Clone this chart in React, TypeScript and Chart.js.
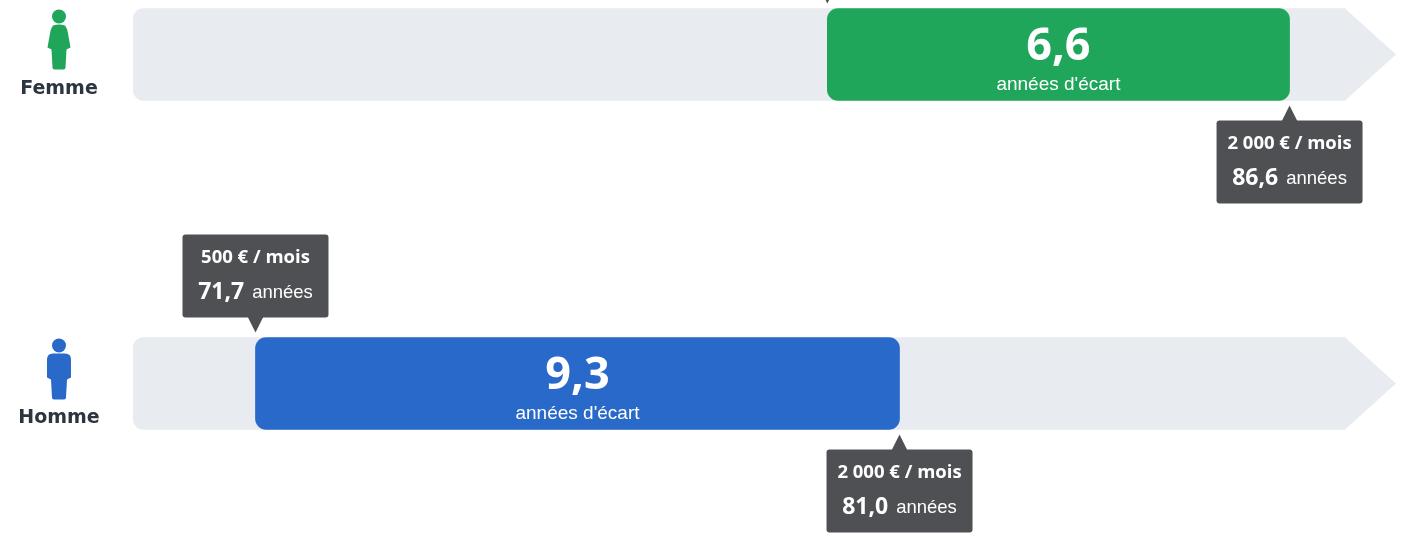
import React, { useEffect, useRef } from "react";
import { Chart, registerables } from "chart.js";

Chart.register(...registerables);

const categories = ["Femme", "Homme"];
const lowValues = [79.94, 71.7];
const highValues = [86.6, 80.98];
const gapLabels = ["6,6", "9,3"];
const lowIncome = ["", "500 € / mois"];
const highIncome = ["2 000 € / mois", "2 000 € / mois"];
const lowLabels = ["", "71,7"];
const highLabels = ["86,6", "81,0"];
const trackStart = 69.935;
const trackEnd = 87.4;
const axisMax = 88.134;
const colours = ["#1fa65a", "#2969c9"];
const trackColour = "#e8ebf0";
const tipColour = "#4f5054";
const unitText = "années";
const gapText = "années d'écart";

const OPEN = '"Open Sans", sans-serif';
const ARIAL = '"Liberation Sans", Arial, sans-serif';
const DEJAVU = '"DejaVu Sans", sans-serif';

function roundedBox(c: CanvasRenderingContext2D, x: number, y: number, w: number, h: number, r: number) {
  c.beginPath();
  c.roundRect(x, y, w, h, r);
  c.fill();
}

function drawFigure(c: CanvasRenderingContext2D, cx: number, cy: number, woman: boolean, colour: string) {
  c.fillStyle = colour;
  c.beginPath();
  c.arc(cx, cy - 38, 7, 0, Math.PI * 2);
  c.fill();
  c.beginPath();
  if (woman) {
    c.moveTo(cx - 6, cy - 29);
    c.quadraticCurveTo(cx, cy - 31, cx + 6, cy - 29);
    c.quadraticCurveTo(cx + 8.5, cy - 26, cx + 9, cy - 21);
    c.lineTo(cx + 11.5, cy - 7);
    c.lineTo(cx + 7.5, cy - 5);
    c.lineTo(cx + 6.5, cy + 13);
    c.quadraticCurveTo(cx + 6.5, cy + 15, cx + 4.5, cy + 15);
    c.lineTo(cx - 4.5, cy + 15);
    c.quadraticCurveTo(cx - 6.5, cy + 15, cx - 6.5, cy + 13);
    c.lineTo(cx - 7.5, cy - 5);
    c.lineTo(cx - 11.5, cy - 7);
    c.lineTo(cx - 9, cy - 21);
    c.quadraticCurveTo(cx - 8.5, cy - 26, cx - 6, cy - 29);
  } else {
    c.moveTo(cx - 6, cy - 30);
    c.lineTo(cx + 6, cy - 30);
    c.quadraticCurveTo(cx + 12, cy - 30, cx + 12, cy - 24);
    c.lineTo(cx + 12, cy - 6);
    c.lineTo(cx + 8, cy - 4);
    c.lineTo(cx + 7, cy + 14);
    c.quadraticCurveTo(cx + 7, cy + 16, cx + 5, cy + 16);
    c.lineTo(cx - 5, cy + 16);
    c.quadraticCurveTo(cx - 7, cy + 16, cx - 7, cy + 14);
    c.lineTo(cx - 8, cy - 4);
    c.lineTo(cx - 12, cy - 6);
    c.lineTo(cx - 12, cy - 24);
    c.quadraticCurveTo(cx - 12, cy - 30, cx - 6, cy - 30);
  }
  c.closePath();
  c.fill();
}

function drawTip(
  c: CanvasRenderingContext2D,
  x: number,
  barEdge: number,
  above: boolean,
  income: string,
  value: string,
) {
  const dir = above ? -1 : 1;
  const tipY = barEdge + dir * 5;
  const baseY = barEdge + dir * 21;
  c.fillStyle = tipColour;
  c.beginPath();
  c.moveTo(x, tipY);
  c.lineTo(x - 8, baseY);
  c.lineTo(x + 8, baseY);
  c.closePath();
  c.fill();
  if (!income) return;
  const boxH = 83;
  const boxY = above ? baseY + 1 - boxH : baseY - 1;
  roundedBox(c, x - 73, boxY, 146, boxH, 3);
  c.fillStyle = "#ffffff";
  c.textBaseline = "middle";
  c.textAlign = "center";
  c.font = `700 18.5px ${OPEN}`;
  c.fillText(income, x, boxY + 23);
  c.font = `700 23px ${OPEN}`;
  const w1 = c.measureText(value).width;
  c.font = `400 18.5px ${ARIAL}`;
  const w2 = c.measureText(unitText).width;
  const start = x - (w1 + 8 + w2) / 2;
  c.textAlign = "left";
  c.font = `700 23px ${OPEN}`;
  c.fillText(value, start, boxY + 58);
  c.font = `400 18.5px ${ARIAL}`;
  c.fillText(unitText, start + w1 + 8, boxY + 58);
}

const decorPlugin = {
  id: "decor",
  beforeDatasetsDraw(chart: any) {
    const c = chart.ctx;
    const x = chart.scales.x;
    const y = chart.scales.y;
    c.save();
    categories.forEach((_, i) => {
      const cy = y.getPixelForValue(i);
      c.fillStyle = trackColour;
      c.beginPath();
      c.moveTo(x.getPixelForValue(trackEnd) - 1, cy - 46);
      c.lineTo(x.getPixelForValue(trackEnd), cy - 46);
      c.lineTo(x.getPixelForValue(axisMax), cy);
      c.lineTo(x.getPixelForValue(trackEnd), cy + 46);
      c.lineTo(x.getPixelForValue(trackEnd) - 1, cy + 46);
      c.closePath();
      c.fill();
    });
    c.restore();
  },
  afterDatasetsDraw(chart: any) {
    const c = chart.ctx;
    const x = chart.scales.x;
    const y = chart.scales.y;
    c.save();
    categories.forEach((name, i) => {
      const cy = y.getPixelForValue(i);
      const xLow = x.getPixelForValue(lowValues[i]);
      const xHigh = x.getPixelForValue(highValues[i]);
      const mid = (xLow + xHigh) / 2;
      c.fillStyle = "#ffffff";
      c.textAlign = "center";
      c.textBaseline = "middle";
      c.font = `700 45px ${OPEN}`;
      c.fillText(gapLabels[i], mid, cy - 7);
      c.font = `400 19px ${ARIAL}`;
      c.fillText(gapText, mid, cy + 30);

      drawTip(c, xLow, cy - 46, true, lowIncome[i], lowLabels[i]);
      drawTip(c, xHigh, cy + 46, false, highIncome[i], highLabels[i]);

      drawFigure(c, 59, cy, i === 0, colours[i]);
      c.fillStyle = "#2d3540";
      c.textAlign = "center";
      c.textBaseline = "middle";
      c.font = `700 19px ${DEJAVU}`;
      c.fillText(name, 59, cy + 34.5);
    });
    c.restore();
  },
};

export default function App() {
  const ref = useRef<HTMLCanvasElement>(null);
  useEffect(() => {
    if (!ref.current) return;
    const chart = new Chart(ref.current, {
      type: "bar",
      data: {
        labels: categories,
        datasets: [
          {
            label: "Écart",
            data: lowValues.map((v, i) => [v, highValues[i]]),
            backgroundColor: colours,
            borderRadius: 11,
            borderSkipped: false,
            barThickness: 92,
            grouped: false,
            order: 1,
          },
          {
            label: "Échelle",
            data: categories.map(() => [trackStart, trackEnd]),
            backgroundColor: trackColour,
            borderRadius: { topLeft: 11, bottomLeft: 11, topRight: 0, bottomRight: 0 },
            borderSkipped: false,
            barThickness: 92,
            grouped: false,
            order: 2,
          },
        ],
      },
      options: {
        indexAxis: "y",
        animation: false,
        responsive: false,
        layout: { padding: { left: 133, right: 13, top: 0, bottom: 0 } },
        plugins: { legend: { display: false }, tooltip: { enabled: false } },
        scales: {
          x: { display: false, min: trackStart, max: axisMax, grid: { display: false } },
          y: { display: false, grid: { display: false } },
        },
      },
      plugins: [decorPlugin],
    } as any);
    return () => chart.destroy();
  }, []);
  return (
    <div style={{ position: "absolute", left: 0, top: 0, width: 1409, height: 537, overflow: "hidden", background: "#fff" }}>
      <canvas ref={ref} width={1409} height={658} style={{ position: "absolute", left: 0, top: -110 }} />
    </div>
  );
}
